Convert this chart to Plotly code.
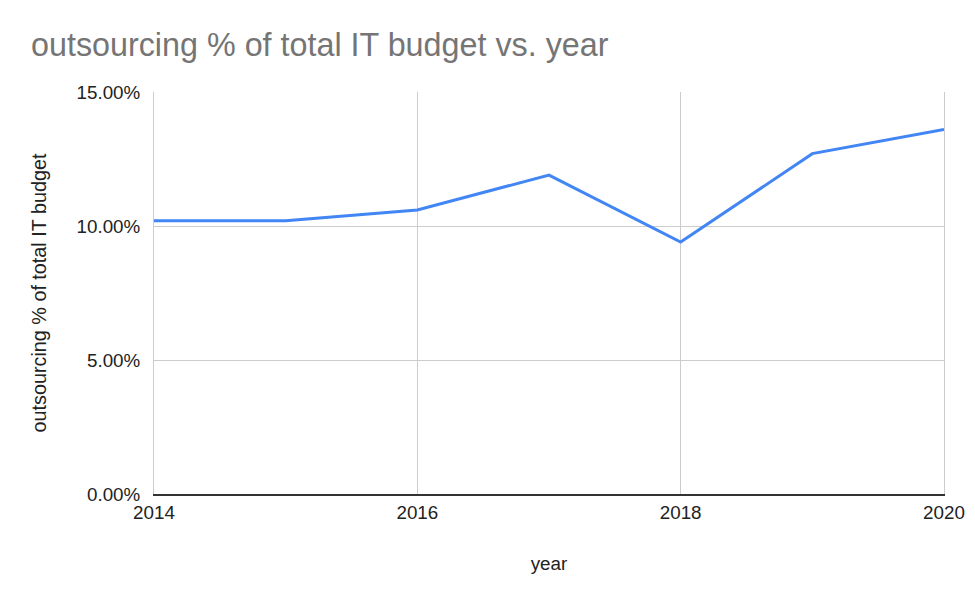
import plotly.graph_objects as go

years = [2014, 2015, 2016, 2017, 2018, 2019, 2020]
outsourcing_pct = [0.102, 0.102, 0.106, 0.119, 0.094, 0.127, 0.136]

title_text = "outsourcing % of total IT budget vs. year"
x_title = "year"
y_title = "outsourcing % of total IT budget"

FONT = "Arial, Liberation Sans, sans-serif"

fig = go.Figure()
fig.add_trace(go.Scatter(
    x=years, y=outsourcing_pct, mode="lines",
    line=dict(color="#4285F4", width=3),
    hoverinfo="x+y",
))

fig.update_layout(
    width=975, height=602,
    margin=dict(l=154, r=31, t=92, b=108, autoexpand=False),
    paper_bgcolor="white", plot_bgcolor="white",
    showlegend=False,
    font=dict(family=FONT, size=18.5, color="#222222"),
    title=dict(
        text=title_text,
        font=dict(family=FONT, size=32.3, color="#757575"),
        xref="container", x=31/975, xanchor="left",
        yref="container", y=1-45/602, yanchor="middle",
    ),
    xaxis=dict(
        range=[2014, 2020], dtick=2, tick0=2014,
        showgrid=True, gridcolor="#cccccc", gridwidth=1,
        showline=True, linecolor="#333333", linewidth=2,
        zeroline=False, ticks="", automargin=False,
        tickfont=dict(size=18.8, color="#222222"),
        title=dict(text=x_title, standoff=35, font=dict(size=18.8, color="#222222")),
    ),
    yaxis=dict(
        range=[0, 0.15], dtick=0.05, tick0=0, tickformat=".2%",
        showgrid=True, gridcolor="#cccccc", gridwidth=1,
        showline=True, mirror=True, linecolor="#cccccc", linewidth=1,
        zeroline=False, ticks="", automargin=False,
        ticklabelstandoff=9,
        tickfont=dict(size=18.8, color="#222222"),
        title=dict(text=y_title, standoff=24, font=dict(size=19.8, color="#222222")),
    ),
)

fig.write_html("out.html")
